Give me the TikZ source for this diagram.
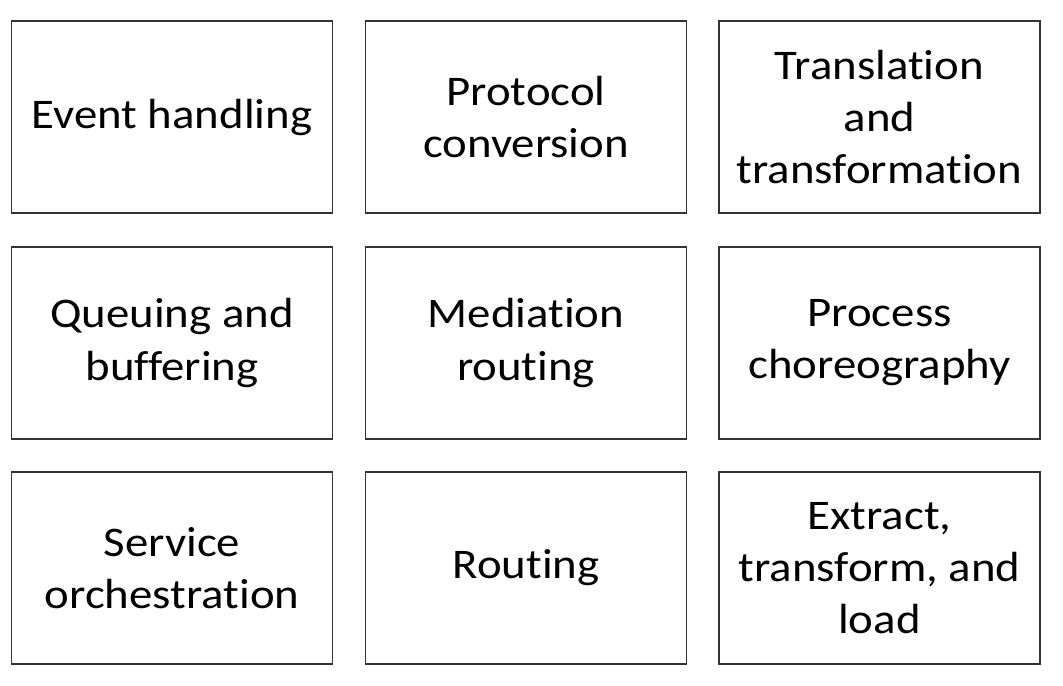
\documentclass[tikz,border=0pt]{standalone}
\usepackage{fontspec}
\setmainfont{Carlito}[FakeStretch=1.11,Ligatures={NoCommon}]

\begin{document}
\begin{tikzpicture}[line width=0.6pt,
  task/.style={draw=black!80,minimum width=6.42cm,minimum height=3.84cm,
    inner sep=0pt,align=center,font=\fontsize{24}{29.6}\selectfont}]
\useasboundingbox (0,0) rectangle (21.26,13.72);
\node[task] (event) at (3.44,11.38) {Event handling};
\node[task] (protocol) at (10.52,11.38) {Protocol\\conversion};
\node[task] (translation) at (17.59,11.38) {Translation\\and\\transformation};
\node[task] (queuing) at (3.44,6.86) {Queuing and\\buffering};
\node[task] (mediation) at (10.52,6.86) {Mediation\\routing};
\node[task] (process) at (17.59,6.86) {Process\\choreography};
\node[task] (service) at (3.44,2.36) {Service\\orchestration};
\node[task] (routing) at (10.52,2.36) {Routing};
\node[task] (extract) at (17.59,2.36) {Extract,\\transform, and\\load};
\end{tikzpicture}
\end{document}
